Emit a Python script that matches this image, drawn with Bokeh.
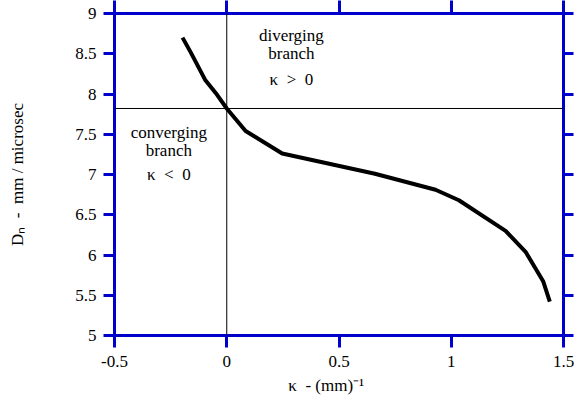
from bokeh.plotting import figure
from bokeh.models import (Range1d, LinearAxis, FixedTicker, CustomJSTickFormatter,
                          Span, Label)
from bokeh.embed import file_html
from bokeh.resources import INLINE

# data
kappa = [-0.197, -0.161, -0.095, -0.043, 0.0, 0.084, 0.247, 0.66, 0.93, 1.034, 1.242, 1.331, 1.41, 1.439]
dn = [8.70, 8.52, 8.17, 7.99, 7.82, 7.54, 7.26, 7.01, 6.81, 6.68, 6.30, 6.04, 5.67, 5.42]
x_ticks = [-0.5, 0, 0.5, 1, 1.5]
y_ticks = [5, 5.5, 6, 6.5, 7, 7.5, 8, 8.5, 9]
cj_dn = 7.82
cj_kappa = 0.0

BLUE = "#0000CC"
FONT = "Liberation Serif"

p = figure(width=574, height=398, output_backend="svg", toolbar_location=None,
           x_range=Range1d(-0.5, 1.5), y_range=Range1d(5, 9),
           x_axis_location=None, y_axis_location=None,
           min_border_left=114, min_border_right=11, min_border_top=13,
           min_border_bottom=63)
p.outline_line_color = None
p.xgrid.visible = False
p.ygrid.visible = False
p.background_fill_color = "white"
p.border_fill_color = "white"

fmt = CustomJSTickFormatter(code="return String(tick);")

def style(ax, tick_out, labels):
    ax.axis_line_color = BLUE
    ax.axis_line_width = 3
    ax.major_tick_line_color = BLUE
    ax.major_tick_line_width = 3
    ax.major_tick_in = 0
    ax.major_tick_out = tick_out
    ax.minor_tick_line_color = None
    if labels:
        ax.major_label_text_font = FONT
        ax.major_label_text_font_size = "17px"
        ax.major_label_text_color = "black"
        ax.formatter = fmt
        ax.axis_label_text_font = FONT
        ax.axis_label_text_font_size = "17px"
        ax.axis_label_text_font_style = "normal"
        ax.axis_label_text_color = "black"
    else:
        ax.major_label_text_font_size = "0px"
        ax.major_label_text_color = None
        ax.major_label_standoff = 0

bx = LinearAxis(ticker=FixedTicker(ticks=x_ticks))
style(bx, 12, True)
bx.major_label_standoff = 8
bx.axis_label = "\u03ba\u00a0\u00a0- (mm)\u207b\u00b9" + "\u00a0" * 6
bx.axis_label_standoff = 6
p.add_layout(bx, "below")

tx = LinearAxis(ticker=FixedTicker(ticks=x_ticks))
style(tx, 13, False)
p.add_layout(tx, "above")

ly = LinearAxis(ticker=FixedTicker(ticks=y_ticks))
style(ly, 11, True)
ly.major_label_standoff = 7
ly.axis_label = "D\u2099\u00a0\u00a0-\u00a0\u00a0mm / microsec"
ly.axis_label_standoff = 45
p.add_layout(ly, "left")

ry = LinearAxis(ticker=FixedTicker(ticks=y_ticks))
style(ry, 10, False)
p.add_layout(ry, "right")

# crosshair at CJ point
p.add_layout(Span(location=cj_kappa, dimension="height", line_color="black", line_width=1))
p.add_layout(Span(location=cj_dn, dimension="width", line_color="black", line_width=1))

p.line(kappa, dn, line_color="black", line_width=4, line_join="round")

def lab(x, y, t, size="17px"):
    p.add_layout(Label(x=x, y=y, text=t, text_font=FONT, text_font_size=size,
                       text_align="center", text_baseline="middle",
                       text_color="black"))

# region annotations
lab(0.288, 8.73, "diverging")
lab(0.288, 8.507, "branch")
lab(0.288, 8.184, "\u03ba\u00a0\u00a0>\u00a0\u00a00")
lab(-0.258, 7.525, "converging")
lab(-0.258, 7.30, "branch")
lab(-0.258, 7.00, "\u03ba\u00a0\u00a0<\u00a0\u00a00")

open("out.html", "w").write(file_html(p, INLINE))
